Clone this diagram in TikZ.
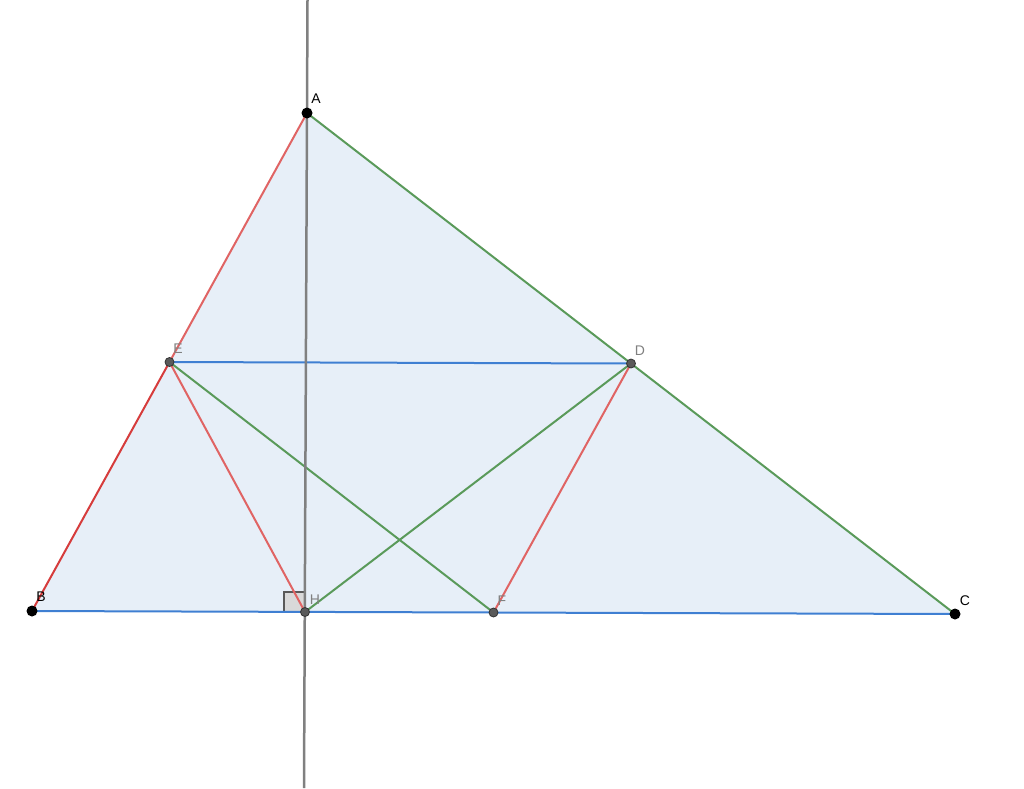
\documentclass[tikz,border=0pt]{standalone}
\usepackage{fontspec}
\setmainfont{Liberation Sans}
\definecolor{fillb}{HTML}{E7EFF8}
\definecolor{redA}{HTML}{E06464}
\definecolor{redB}{HTML}{D63C3C}
\definecolor{grn}{HTML}{5A9A5A}
\definecolor{blu}{HTML}{3F7FD2}
\definecolor{gline}{HTML}{808080}
\definecolor{ptgray}{HTML}{5A5A5A}
\begin{document}
\begin{tikzpicture}[x=1pt,y=-1pt,
  seg/.style={line width=2pt},
  bigpt/.style={circle,fill=black,inner sep=0pt,minimum size=11pt},
  smpt/.style={circle,fill=ptgray,draw=black!80,line width=0.8pt,inner sep=0pt,minimum size=9pt},
  lbl/.style={font=\fontsize{14}{16}\selectfont,inner sep=0pt},
  lblg/.style={lbl,text=gray}]
\useasboundingbox (0,0) rectangle (1024,788);
\coordinate (A) at (307,113);
\coordinate (B) at (32,611);
\coordinate (C) at (955,614);
\coordinate (D) at (631,363.5);
\coordinate (E) at (169.5,362);
\coordinate (F) at (493.5,612.5);
\coordinate (H) at (305,612);
\coordinate (Ltop) at (307.5,0);
\coordinate (Lbot) at (304,788);
\fill[fillb] (A) -- (B) -- (C) -- cycle;
\filldraw[fill=gray!30,draw=gray!70!black,line width=1.5pt] (284,592) rectangle (305,612);
\draw[seg,blu] (B) -- (C);
\draw[seg,blu] (E) -- (D);
\draw[seg,grn] (A) -- (C);
\draw[seg,grn] (E) -- (F);
\draw[seg,grn] (H) -- (D);
\draw[seg,redA] (A) -- (E);
\draw[seg,redB] (E) -- (B);
\draw[seg,redA] (E) -- (H);
\draw[seg,redA] (D) -- (F);
\draw[line width=2.5pt,gline] (Ltop) -- (Lbot);
\node[bigpt] (pA) at (A) {};
\node[bigpt] (pB) at (B) {};
\node[bigpt] (pC) at (C) {};
\node[smpt] (pD) at (D) {};
\node[smpt] (pE) at (E) {};
\node[smpt] (pF) at (F) {};
\node[smpt] (pH) at (H) {};
\node[lbl] (lA) at (316,99) {A};
\node[lbl] (lB) at (41,597) {B};
\node[lbl] (lC) at (965,601) {C};
\node[lblg] (lD) at (640,351) {D};
\node[lblg] (lE) at (178,349) {E};
\node[lblg] (lF) at (502,601) {F};
\node[lblg] (lH) at (315,600) {H};
\end{tikzpicture}
\end{document}
